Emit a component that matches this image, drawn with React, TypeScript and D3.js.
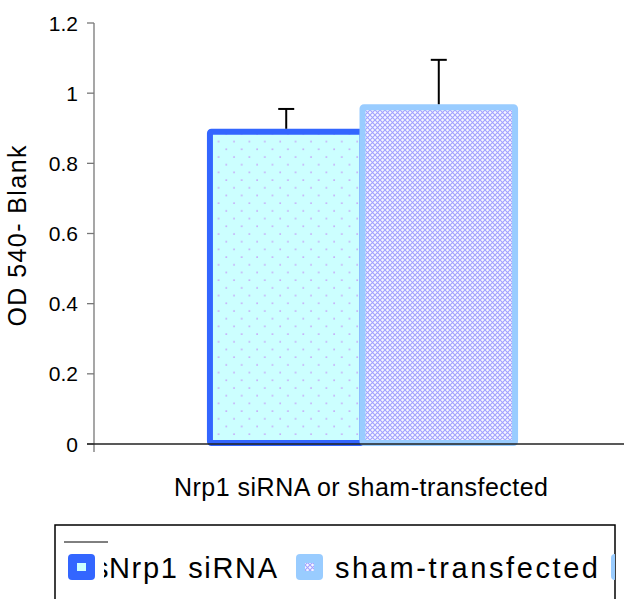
import * as d3 from "d3";

const categories = ["Nrp1 siRNA or sham-transfected"];
const seriesNames = ["Nrp1 siRNA", "sham-transfected"];
const seriesValues = [0.89, 0.96];
const seriesErrors = [0.065, 0.135];
const yTicks = [0, 0.2, 0.4, 0.6, 0.8, 1, 1.2];

const W = 624;
const H = 599;
const FONT = "'Liberation Sans', Arial, sans-serif";

export default function App() {
  const y = d3.scaleLinear().domain([0, 1.2]).range([444, 23]);
  const x = d3.scaleBand().domain(categories).range([94, 631]).paddingInner(0).paddingOuter(0.38);
  const xs = d3.scaleBand().domain(seriesNames).range([0, x.bandwidth()]);
  const fills = ["url(#dots)", "url(#hatch)"];
  const strokes = ["#3366ff", "#99ccff"];

  return (
    <svg width={W} height={H} style={{ position: "absolute", left: 0, top: 0, background: "#fff" }} fontFamily={FONT}>
      <defs>
        <pattern id="dots" width="15.4" height="15.4" patternUnits="userSpaceOnUse">
          <rect width="15.4" height="15.4" fill="#ccffff" />
          <circle cx="3" cy="3" r="0.9" fill="#c59cf7" />
          <circle cx="10.7" cy="10.7" r="0.9" fill="#c59cf7" />
        </pattern>
        <pattern id="hatch" width="5" height="5" patternUnits="userSpaceOnUse">
          <rect width="5" height="5" fill="#f6f6ff" />
          <path d="M0,0L5,5M5,0L0,5" stroke="#a2a2ff" strokeWidth="1.1" />
        </pattern>
        <clipPath id="sclip">
          <rect x={104} y={540} width={4.5} height={50} />
        </clipPath>
        <clipPath id="legclip">
          <rect x={55} y={525} width={560} height={80} />
        </clipPath>
      </defs>

      {/* bars */}
      {categories.map((c) =>
        seriesNames.map((s, i) => {
          const bx = (x(c) ?? 0) + (xs(s) ?? 0);
          const bw = xs.bandwidth();
          const top = y(seriesValues[i]);
          const cx = bx + bw / 2;
          const eTop = y(seriesValues[i] + seriesErrors[i]);
          return (
            <g key={s}>
              <rect x={bx} y={top} width={bw} height={y(0) - top - 1} fill={fills[i]} stroke={strokes[i]} strokeWidth={6} rx={1.5} />
              <line x1={cx} x2={cx} y1={top - 3} y2={eTop} stroke="#000" strokeWidth={2} />
              <line x1={cx - 8} x2={cx + 8} y1={eTop} y2={eTop} stroke="#000" strokeWidth={2} />
            </g>
          );
        })
      )}

      {/* y axis */}
      <line x1={94} x2={94} y1={y(1.2)} y2={452} stroke="#777" strokeWidth={1.3} />
      {yTicks.map((t) => (
        <g key={t}>
          <line x1={87} x2={94} y1={y(t)} y2={y(t)} stroke="#777" strokeWidth={1.3} />
          <text x={78} y={y(t)} dy="0.36em" textAnchor="end" fontSize={21} fill="#000">
            {String(t)}
          </text>
        </g>
      ))}
      {/* x axis */}
      <line x1={87} x2={W} y1={y(0)} y2={y(0)} stroke="#222" strokeWidth={1.5} />

      <text transform="translate(26,236) rotate(-90)" textAnchor="middle" fontSize={25} textLength={181} lengthAdjust="spacing">
        OD 540- Blank
      </text>
      <text x={361} y={496} textAnchor="middle" fontSize={25} textLength={374} lengthAdjust="spacing">
        {categories[0]}
      </text>

      {/* legend */}
      <rect x={55} y={525} width={560} height={90} fill="none" stroke="#000" strokeWidth={1.5} />
      <line x1={64} x2={108} y1={542} y2={542} stroke="#000" strokeWidth={1} />
      <g clipPath="url(#legclip)">
        <rect x={68} y={554} width={27} height={26} rx={4} fill="#3366ff" />
        <rect x={77} y={563} width={9} height={8} fill="#ccffff" />
        <text x={94} y={578} fontSize={29} clipPath="url(#sclip)">s</text>
        <text x={109} y={578} fontSize={29} textLength={168} lengthAdjust="spacing">
          {seriesNames[0]}
        </text>
        <rect x={296} y={554} width={27} height={26} rx={4} fill="#99ccff" />
        <rect x={305} y={563} width={9} height={8} fill="url(#hatch)" />
        <text x={335} y={578} fontSize={29} textLength={263} lengthAdjust="spacing">
          {seriesNames[1]}
        </text>
        <rect x={611} y={554} width={27} height={26} rx={4} fill="#99ccff" />
      </g>
    </svg>
  );
}
